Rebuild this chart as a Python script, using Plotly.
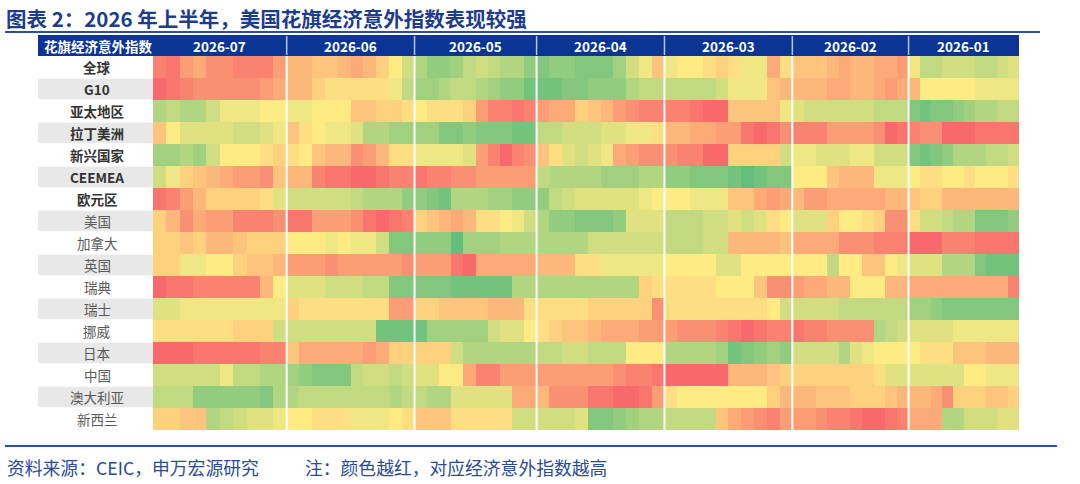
import plotly.graph_objects as go

# months from left to right (latest first), trading days shown per month
MONTHS = ["2026-07", "2026-06", "2026-05", "2026-04", "2026-03", "2026-02", "2026-01"]
TRADING_DAYS = [23, 22, 21, 22, 22, 20, 19]
BINS_PER_MONTH = 10

REGIONS = ["全球", "G10", "亚太地区", "拉丁美洲", "新兴国家", "CEEMEA", "欧元区",
           "美国", "加拿大", "英国", "瑞典", "瑞士", "挪威", "日本", "中国", "澳大利亚", "新西兰"]
BOLD_ROWS = 7

# surprise index, scaled -10 (green) .. 10 (red); 10 values per month: Jul, Jun, May, Apr, Mar, Feb, Jan
world = [8, 9, 6, 5, 7, 7, 8, 8, 8, 6,  4, 4, 3, 3, 4, 5, 4, 2, 0, -3,
         -5, -7, -7, -6, -4, -3, -4, -5, -5, -7,  -8, -7, -7, -8, -8, -8, -6, -3, -1, 3,
         -1, 0, 0, 1, 2, 1, -1, -1, 5, 1,  3, 3, 3, 4, 5, 4, 4, 5, 5, 6,
         -1, -4, -4, -3, -3, -3, -4, -4, -3, -2]
g10 = [10, 9, 8, 7, 7, 7, 7, 7, 6, 5,  4, 4, 2, 1, 1, 1, 1, 1, -1, -4,
       -6, -6, -5, -4, -4, -5, -6, -7, -7, -9,  -9, -9, -8, -8, -7, -7, -7, -5, -4, -4,
       -4, -4, -4, -4, -3, -1, -1, -1, 3, 4,  4, 4, 4, 5, 5, 4, 4, 5, 6, 5,
       4, 0, 0, 0, 0, 0, -1, -1, -1, -1]
asia_pacific = [-5, -4, -5, -5, -3, -1, -1, -1, 0, 0,  -1, -1, 0, 0, 0, 3, 3, 2, 2, 1,
                0, 1, 1, 1, 2, 6, 8, 8, 9, 8,  6, 5, 5, 2, 3, 4, 6, 7, 8, 8,
                8, 8, 9, 10, 10, 3, 3, 3, 3, -1,  -2, -3, -3, -3, -3, -3, -3, -4, -4, -4,
                -8, -9, -8, -8, -7, -6, -5, -5, -4, -4]
latam = [3, 0, -2, -2, -2, -2, -3, -3, -2, -1,  3, 1, 0, -1, -1, -2, -5, -5, -6, -6,
         -6, -6, -8, -8, -7, -8, -8, -8, -9, -9,  -4, -4, -3, -3, -3, -2, -2, -1, -1, 1,
         4, 4, 5, 5, 6, 6, 9, 10, 9, 7,  8, 8, 8, 6, 6, 6, 6, 7, 10, 9,
         8, 7, 7, 10, 10, 10, 9, 9, 9, 9]
emerging = [-6, -6, -5, -6, -3, 0, 0, 0, 1, 2,  1, 0, 3, 4, 4, 7, 6, 4, 1, 1,
            -1, -1, -1, -1, -2, 6, 8, 10, 8, 7,  3, 1, -2, -3, -2, -1, 5, 6, 7, 7,
            7, 8, 8, 10, 10, 2, 2, 2, 2, -3,  -1, -1, -2, -2, -2, -1, -1, -3, -3, -3,
            -8, -9, -8, -7, -5, -5, -5, -4, -4, -3]
ceemea = [-3, -1, 2, 3, 4, 5, 6, 6, 7, 3,  4, 4, 8, 9, 9, 10, 10, 9, 8, 8,
          9, 8, 8, 7, 7, 6, 6, 6, 6, 6,  -4, -5, -5, -5, -5, -6, -6, -6, -5, -5,
          -7, -7, -8, -8, -8, -9, -10, -9, -8, -8,  0, 0, 0, 3, 4, 4, 4, -1, -1, -1,
          0, 1, 1, 0, 0, 1, 0, 0, 0, 1]
euro_area = [9, 8, 6, 4, 2, 2, 2, 2, 1, -2,  -3, -3, -3, -3, -3, -4, -5, -5, -5, -7,
             -7, -8, -9, -5, -5, -5, -6, -6, -7, -7,  -7, -4, -3, -2, -2, -2, -2, -2, -1, 0,
             0, 0, -1, -1, -1, 3, 3, 5, 6, 5,  4, 6, 6, 5, 5, 5, 5, 5, 4, 4,
             3, 2, 2, 4, 4, 4, 4, 4, 4, 4]
usa = [2, 4, 7, 5, 6, 6, 8, 8, 8, 7,  9, 9, 6, 6, 6, 7, 9, 10, 9, 8,
       2, 3, 4, 5, 4, 1, 1, 0, -1, -3,  -5, -7, -7, -8, -8, -8, -7, -2, -2, -2,
       -4, -4, -4, -3, -3, -2, -3, -2, 1, 0,  -2, -2, -2, 2, 0, 0, 1, 2, 7, 7,
       1, -3, -3, -4, -5, -5, -8, -8, -8, -7]
canada = [2, 2, 3, 2, 4, 4, 3, 2, 2, 2,  0, 0, 0, -1, 0, -1, -1, -3, -8, -8,
          -7, -7, -7, -10, -6, -6, -6, -5, -5, -5,  -5, -5, -5, -5, -3, -3, -3, -3, -3, -3,
          -4, -4, -4, -3, -3, 4, 4, 4, 4, 3,  5, 5, 5, 5, 7, 7, 7, 8, 8, 8,
          10, 10, 10, 8, 8, 8, 9, 9, 9, 9]
uk = [2, 2, -1, -1, 0, 0, 2, 3, 3, 4,  6, 6, 6, 7, 6, 6, 6, 6, 6, 7,
      6, 6, 6, 9, 10, 5, 5, 5, 5, 5,  4, 4, 4, 1, 1, -1, -1, -1, -1, -1,
      0, 0, 0, 0, -2, -2, 0, 0, 0, 0,  0, 0, 0, -4, 0, 0, 3, 3, 0, -1,
      -2, -2, -2, -5, -5, -5, -8, -9, -9, -9]
sweden = [10, 9, 9, 8, 8, 8, 8, 8, 4, 0,  -2, -2, -2, -3, -3, -3, -4, -4, -8, -8,
          -8, -8, -8, -9, -9, -9, -9, -9, -5, -5,  -5, -5, -5, -5, -5, -5, -5, -5, 2, 1,
          1, 1, 1, 1, 0, 0, 0, 3, 7, 7,  6, 5, 5, 4, 4, 0, 0, 0, 4, 4,
          5, 5, 5, 5, 5, 5, 5, 5, 5, 8]
switzerland = [-2, -2, -1, -1, -1, -1, -1, -1, -1, -1,  2, 1, 1, 1, 1, 1, 1, 1, 6, 6,
               2, 2, 3, 3, 3, 3, 4, 4, 4, 1,  1, 1, 1, 1, 2, 2, 2, 2, 2, 7,
               1, 1, 1, 1, 1, 1, 1, 1, 0, -3,  -3, -3, -3, -3, -4, -4, -4, -4, -4, -4,
               -6, -6, -7, -8, -8, -8, -8, -8, -8, -8]
norway = [1, 1, 1, 1, 1, 1, 2, 2, 2, -3,  -3, -3, -3, -3, -3, -3, -3, -9, -9, -9,
          -9, -6, -6, -6, -6, -6, -3, -2, -2, 0,  1, 2, 3, 3, 4, 5, 5, 5, 6, 6,
          6, 7, 7, 7, 8, 9, 10, 9, 8, 8,  9, 8, 8, 7, 7, 7, 7, -5, -4, -3,
          -2, -2, -2, -2, -1, -1, -1, -1, -1, -1]
japan = [10, 10, 10, 9, 9, 9, 9, 9, 8, 8,  3, 5, 5, 5, 5, 5, 6, 5, 2, 2,
         2, 2, 2, -3, -5, -5, -5, -5, -5, -5,  -4, -4, -3, -3, -4, -4, -4, 0, 0, 0,
         -5, -5, -5, -5, -6, -9, -8, -7, -6, -7,  -3, -3, -3, -3, -5, -2, -1, 0, 0, 0,
         0, 1, 1, 1, 3, 3, 3, 4, 4, 4]
china = [-3, -3, -3, -3, -3, -1, -4, -4, -5, -5,  -6, -7, -8, -8, -8, -4, -3, -3, -4, -3,
         -2, -2, 0, 0, 5, 8, 8, 6, 6, 6,  6, 6, 6, 6, 6, 6, 7, 8, 8, 9,
         10, 10, 10, 10, 10, 4, 4, 4, 3, 2,  2, 2, 2, 2, 2, 2, 2, 1, -2, -2,
         -2, -2, -2, -2, -2, 0, 0, -1, -1, -1]
australia = [-4, -4, -4, -7, -7, -7, -7, -7, -8, -5,  -5, -4, -4, -4, -4, -4, -4, -4, -5, -4,
             -4, -5, -5, -2, -2, -2, -2, -2, 5, 5,  4, 7, 7, 7, 9, 9, 10, 10, 9, 6,
             1, 0, 0, 0, 0, 0, 0, 0, 2, 4,  4, 4, 3, 3, 3, 2, 2, 2, 3, 4,
             4, 4, 5, 7, 2, 2, 2, 3, 3, 2]
new_zealand = [2, 2, 3, 3, -5, -4, -3, -2, -2, -1,  0, 0, 1, 1, 1, -1, -1, -1, 0, 1,
               3, 3, 3, 1, 1, 1, 1, 1, -3, -3,  -3, -3, -3, -2, -8, -8, -7, -6, -5, -5,
               -4, -4, -4, -4, 3, 5, 6, 7, 8, 6,  6, 6, 7, 8, 8, 9, 10, 10, 9, 8,
               5, 5, 5, -5, -5, -3, -3, -3, -2, -2]

z = [world, g10, asia_pacific, latam, emerging, ceemea, euro_area, usa, canada, uk,
     sweden, switzerland, norway, japan, china, australia, new_zealand]

# trading-day positions: 0 = end of July, growing to the right (back in time)
x_centers = []
edges = [0]
for d in TRADING_DAYS:
    start = edges[-1]
    step = d / BINS_PER_MONTH
    x_centers += [start + (i + 0.5) * step for i in range(BINS_PER_MONTH)]
    edges.append(start + d)

W, H = 1080, 484


def px(x):
    return x / W


def py(y):
    return 1 - y / H


FONT = "Noto Sans CJK SC"
BLUE = "#0b3595"

fig = go.Figure(go.Heatmap(
    z=z, x=x_centers, y=list(range(len(REGIONS))),
    colorscale=[[0, "#63BE7B"], [0.5, "#FFEB84"], [1, "#F8696B"]],
    zmin=-10, zmax=10, showscale=False, hoverinfo="skip",
))

shapes = []
annotations = []

# title line and bottom line
shapes.append(dict(type="line", xref="paper", yref="paper", x0=px(5), x1=px(1040),
                   y0=py(32), y1=py(32), line=dict(color="#2b4ea3", width=2)))
shapes.append(dict(type="line", xref="paper", yref="paper", x0=px(5), x1=px(1057),
                   y0=py(446), y1=py(446), line=dict(color="#2b4ea3", width=2)))

# header bar
shapes.append(dict(type="rect", xref="paper", yref="paper", x0=px(38), x1=px(1019),
                   y0=py(56), y1=py(35), fillcolor=BLUE, line=dict(width=0), layer="below"))
annotations.append(dict(text="<b>花旗经济意外指数</b>", xref="paper", yref="paper",
                        x=px(42), y=py(45.5), xanchor="left", yanchor="middle", showarrow=False,
                        font=dict(family=FONT, size=13.5, color="white")))
for i, m in enumerate(MONTHS):
    annotations.append(dict(text=f"<b>{m}</b>", xref="x", yref="paper",
                            x=(edges[i] + edges[i + 1]) / 2, y=py(45.5),
                            xanchor="center", yanchor="middle", showarrow=False,
                            font=dict(family=FONT, size=13.5, color="white")))
for e in edges[1:-1]:
    shapes.append(dict(type="line", xref="x", yref="paper", x0=e, x1=e, y0=py(55), y1=py(36),
                       line=dict(color="#b9c4e2", width=1.5)))
    shapes.append(dict(type="line", xref="x", yref="paper", x0=e, x1=e, y0=py(430), y1=py(56),
                       line=dict(color="white", width=2)))

# row labels
for i, name in enumerate(REGIONS):
    shapes.append(dict(type="rect", xref="paper", yref="y", x0=px(38), x1=px(153),
                       y0=i - 0.47, y1=i + 0.47,
                       fillcolor="#e8e8e8" if i % 2 else "white", line=dict(width=0), layer="below"))
    bold = i < BOLD_ROWS
    annotations.append(dict(text=f"<b>{name}</b>" if bold else name, xref="paper", yref="y",
                            x=px(97), y=i, xanchor="center", yanchor="middle", showarrow=False,
                            font=dict(family=FONT, size=13.5, color="#333333" if bold else "#595959")))

# title and footer
annotations.append(dict(text="<b>图表 2：2026 年上半年，美国花旗经济意外指数表现较强</b>",
                        xref="paper", yref="paper", x=px(4), y=py(18), xanchor="left",
                        yanchor="middle", showarrow=False,
                        font=dict(family=FONT, size=20.5, color="#1d3c8e")))
annotations.append(dict(text="资料来源：CEIC，申万宏源研究", xref="paper", yref="paper",
                        x=px(5), y=py(467), xanchor="left", yanchor="middle", showarrow=False,
                        font=dict(family=FONT, size=17.8, color="#2a4a9a")))
annotations.append(dict(text="注：颜色越红，对应经济意外指数越高", xref="paper", yref="paper",
                        x=px(303), y=py(467), xanchor="left", yanchor="middle", showarrow=False,
                        font=dict(family=FONT, size=17.8, color="#2a4a9a")))

fig.update_layout(
    width=W, height=H,
    margin=dict(l=0, r=0, t=0, b=0),
    paper_bgcolor="white", plot_bgcolor="white",
    xaxis=dict(domain=[px(153), px(1019)], range=[0, edges[-1]], visible=False, fixedrange=True),
    yaxis=dict(domain=[py(430), py(56)], range=[len(REGIONS) - 0.5, -0.5], visible=False),
    shapes=shapes, annotations=annotations, showlegend=False,
)

# the page body has a default 8px margin; drop it so the figure fills the window
fig.write_html("out.html", config={"displayModeBar": False},
               post_script="document.body.style.margin='0';")
